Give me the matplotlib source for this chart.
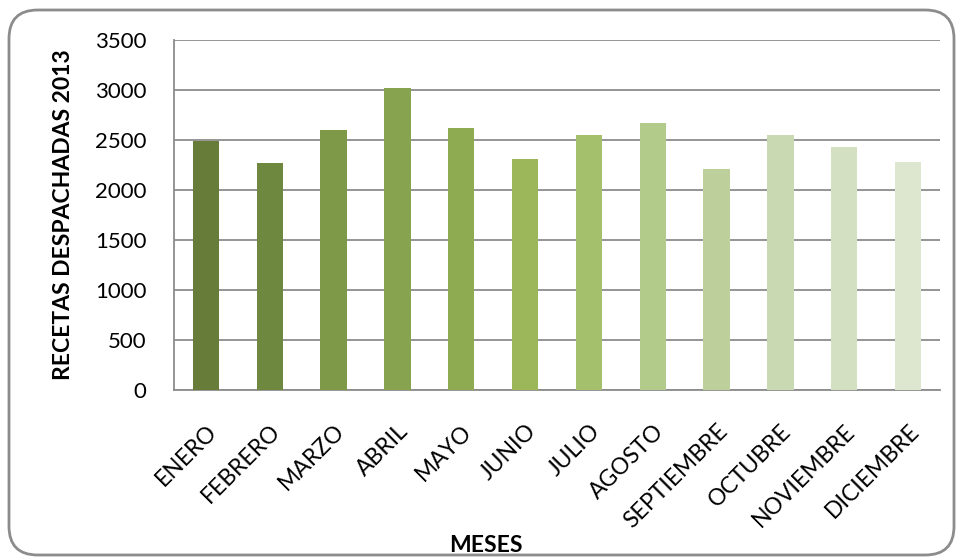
import matplotlib
matplotlib.use("Agg")
import matplotlib.pyplot as plt
from matplotlib.patches import FancyBboxPatch

months = ["ENERO", "FEBRERO", "MARZO", "ABRIL", "MAYO", "JUNIO", "JULIO",
          "AGOSTO", "SEPTIEMBRE", "OCTUBRE", "NOVIEMBRE", "DICIEMBRE"]
values = [2490, 2270, 2600, 3020, 2620, 2310, 2550, 2670, 2210, 2550, 2430, 2280]
colors = ["#667C38", "#6F8840", "#7E9A48", "#88A34F", "#8FAB52", "#9BB759",
          "#A4C06C", "#B2CA8A", "#BDD09C", "#C9D9B1", "#D3E0C2", "#DDE6CF"]
yticks = [0, 500, 1000, 1500, 2000, 2500, 3000, 3500]

plt.rcParams['font.family'] = ['Lato', 'DejaVu Sans']

fig = plt.figure(figsize=(9.56, 5.58), dpi=100)
ax = fig.add_axes([174/956, 1-390/558, (940-174)/956, 350/558])

x = range(len(months))
ax.bar(x, values, width=0.41, color=colors, zorder=3)
ax.set_xlim(-0.5, len(months)-0.5)
ax.set_ylim(0, 3500)
ax.set_yticks(yticks)
ax.set_yticklabels([str(v) for v in yticks], fontsize=16)
ax.set_xticks(list(x))
ax.set_xticklabels(months, rotation=45, ha='right', va='top',
                   rotation_mode='anchor', fontsize=16.5)
ax.tick_params(axis='both', length=0)
ax.tick_params(axis='y', pad=20)
ax.tick_params(axis='x', pad=22)
ax.grid(axis='y', color='#8C8C8C', linewidth=1.3, zorder=0)
for s in ['top', 'right']:
    ax.spines[s].set_visible(False)
for s in ['left', 'bottom']:
    ax.spines[s].set_color('#8C8C8C')
    ax.spines[s].set_linewidth(1.3)

ax.set_ylabel("RECETAS DESPACHADAS 2013", fontsize=16.5, fontweight='bold')
ax.yaxis.set_label_coords(-100/766, 0.5)
fig.text(486/956, 1-545/558, "MESES", fontsize=16.5, fontweight='bold',
         ha='center', va='center')

border = FancyBboxPatch((9/956, 3/558), (954-9)/956, (548-3)/558,
                        boxstyle="round,pad=0,rounding_size=0.03",
                        transform=fig.transFigure, facecolor='none',
                        edgecolor='#8C8C8C', linewidth=2, mutation_aspect=956/558)
fig.patches.append(border)

fig.savefig("out.png", dpi=100)
